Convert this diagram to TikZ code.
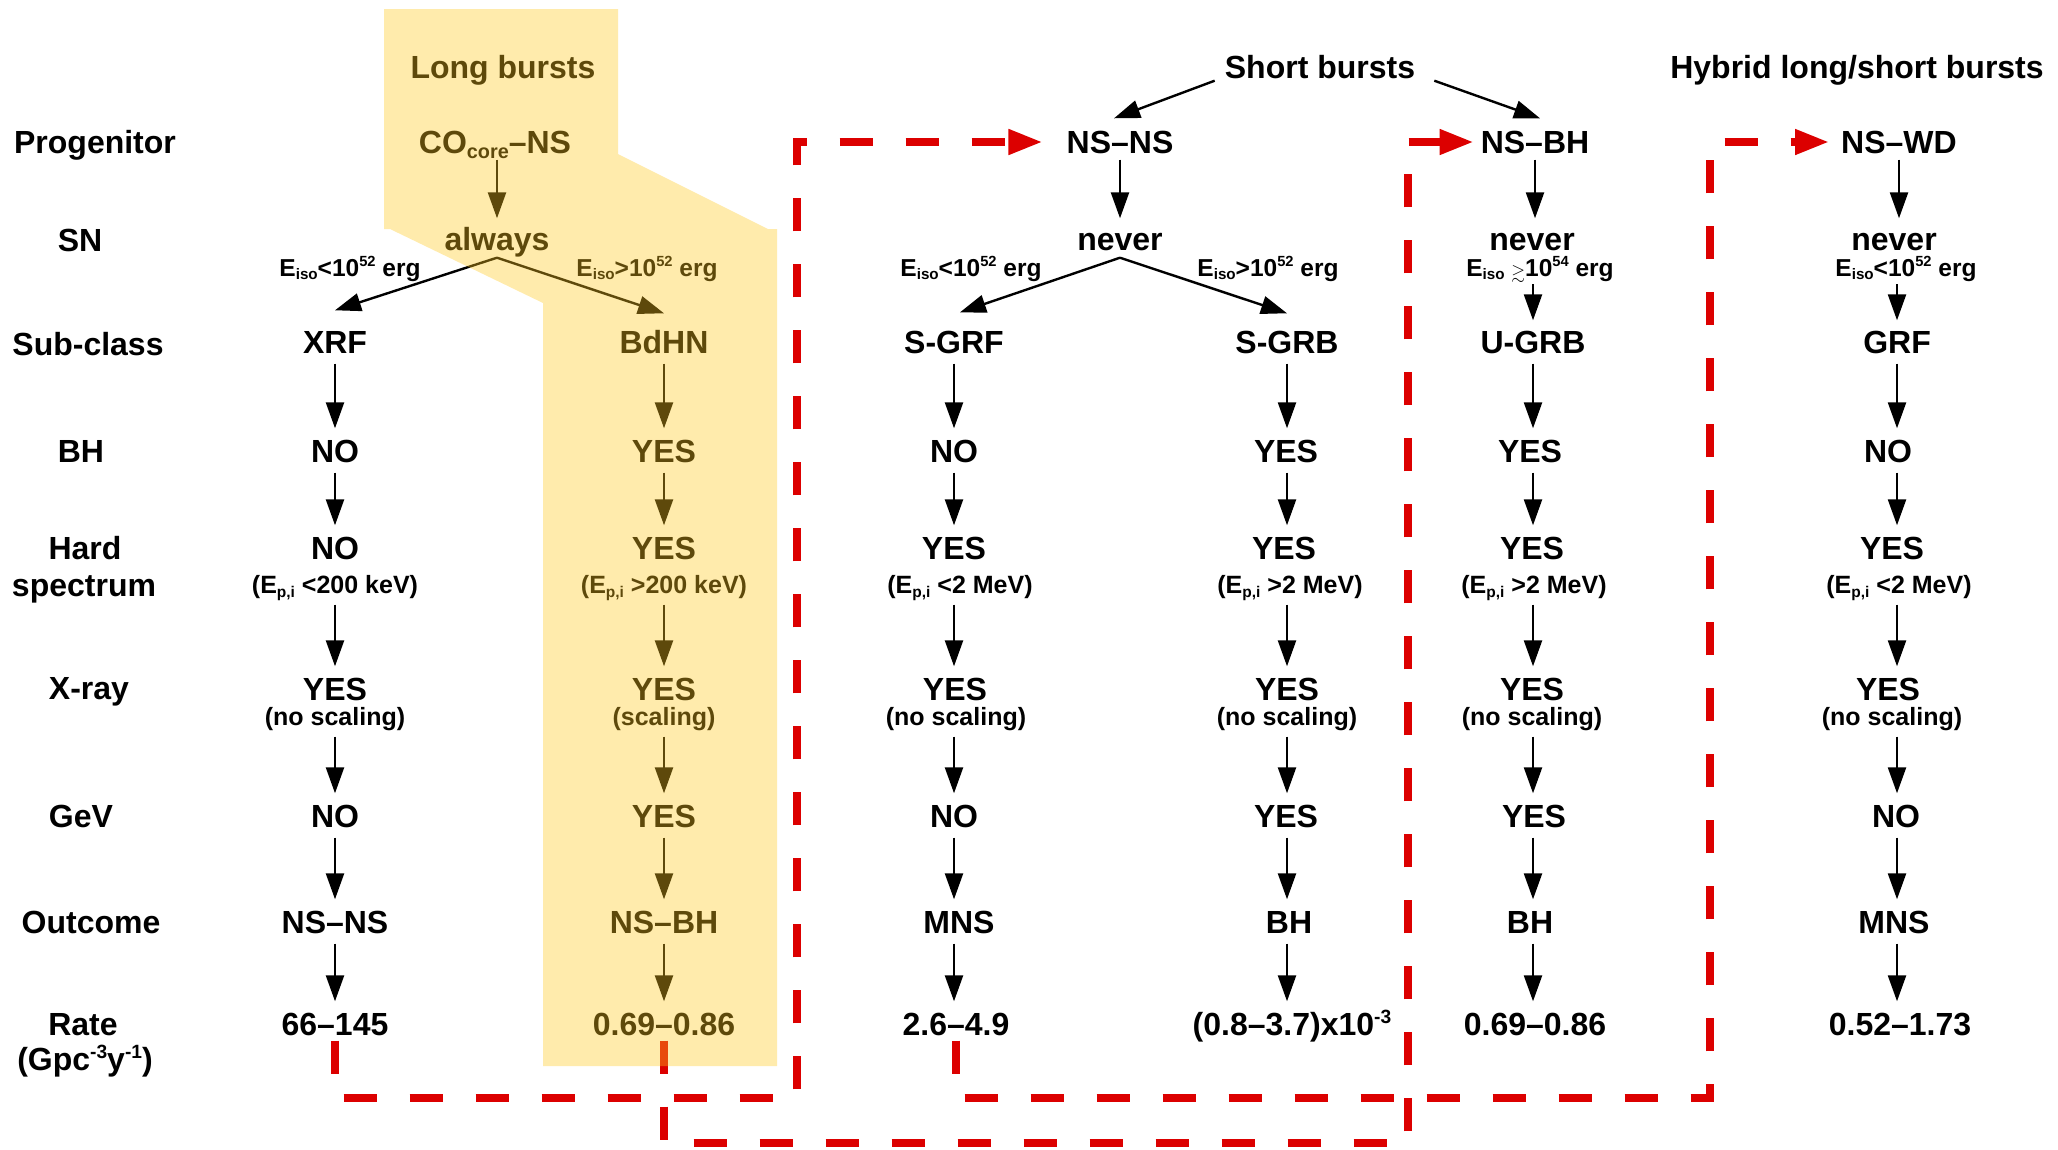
\documentclass[tikz,border=0pt]{standalone}
\usepackage{fontspec}
\setmainfont{Liberation Sans}
\usepackage{amssymb}
\usepackage{graphicx}
\usetikzlibrary{arrows.meta}
\definecolor{rdc}{RGB}{220,0,0}
\definecolor{ylw}{RGB}{255,200,30}
\newcommand\lsub[1]{\raisebox{-0.15em}{\scalebox{0.62}{#1}}}
\newcommand\lsup[1]{\raisebox{0.38em}{\scalebox{0.6}{#1}}}
\newcommand\gsim{\raisebox{-0.12em}{\scalebox{0.72}{$\gtrsim$}}}
\begin{document}
\begin{tikzpicture}[x=1pt,y=-1pt,
  big/.style={font=\fontsize{32}{36}\selectfont\bfseries, inner sep=0pt, text height=23pt, text depth=0pt},
  small/.style={font=\fontsize{25}{28}\selectfont\bfseries, inner sep=0pt, text height=18pt, text depth=5pt},
  cond/.style={font=\fontsize{24.5}{28}\selectfont\bfseries, inner sep=0pt, text height=17pt, text depth=5pt},
  arr/.style={line width=2.4pt, -{Triangle[length=26pt,width=18pt]}, shorten <=10pt, shorten >=11pt},
  sarr/.style={arr, shorten <=6pt},
  barr/.style={line width=2.4pt, -{Triangle[length=26pt,width=18pt]}},
  rdash/.style={draw=rdc, line width=7.5pt, dash pattern=on 33pt off 33pt, -{Triangle[length=34pt,width=24pt]}},
]
\useasboundingbox (0,0) rectangle (2058,1149);

% titles
\node[big] (tlong) at (503,67) {Long bursts};
\node[big] (tshort) at (1320,67) {Short bursts};
\node[big] (thyb) at (1857,67) {Hybrid long/short bursts};

% row labels
\node[big] (rprog) at (95,142) {Progenitor};
\node[big] (rsn) at (80,240) {SN};
\node[big] (rsubc) at (88,344) {Sub-class};
\node[big] (rbh) at (81,451) {BH};
\node[big] (rhard) at (85,548) {Hard};
\node[big] (rspec) at (84,585) {spectrum};
\node[big] (rxray) at (89,688) {X-ray};
\node[big] (rgev) at (81,816) {GeV};
\node[big] (rout) at (91,922) {Outcome};
\node[big] (rrate) at (83,1024) {Rate};
\node[big] (runit) at (85,1059) {(Gpc\lsup{-3}y\lsup{-1})};

% progenitors
\node[big] (pco) at (495,142) {CO\lsub{core}\textendash NS};
\node[big] (pnsns) at (1120,142) {NS\textendash NS};
\node[big] (pnsbh) at (1535,142) {NS\textendash BH};
\node[big] (pnswd) at (1899,142) {NS\textendash WD};

% SN
\node[big] (sA) at (497,239) {always};
\node[big] (sC) at (1120,239) {never};
\node[big] (sE) at (1532,239) {never};
\node[big] (sF) at (1894,239) {never};

% conditions
\node[cond] (cA) at (350,270) {E\lsub{iso}<10\lsup{52} erg};
\node[cond] (cB) at (647,270) {E\lsub{iso}>10\lsup{52} erg};
\node[cond] (cC) at (971,270) {E\lsub{iso}<10\lsup{52} erg};
\node[cond] (cD) at (1268,270) {E\lsub{iso}>10\lsup{52} erg};
\node[cond] (cE) at (1540,270) {E\lsub{iso} \gsim10\lsup{54} erg};
\node[cond] (cF) at (1906,270) {E\lsub{iso}<10\lsup{52} erg};

% column A
\node[big] (subA) at (335,342) {XRF};
\node[big] (bhA) at (335,451) {NO};
\node[big] (hdA) at (335,548) {NO};
\node[small] (hsA) at (335,587) {(E\lsub{p,i} <200 keV)};
\node[big] (xrA) at (335,689) {YES};
\node[small] (xsA) at (335,719) {(no scaling)};
\node[big] (gvA) at (335,816) {NO};
\node[big] (ouA) at (335,922) {NS\textendash NS};
\node[big] (raA) at (335,1024) {66\textendash 145};

% column B
\node[big] (subB) at (664,342) {BdHN};
\node[big] (bhB) at (664,451) {YES};
\node[big] (hdB) at (664,548) {YES};
\node[small] (hsB) at (664,587) {(E\lsub{p,i} >200 keV)};
\node[big] (xrB) at (664,689) {YES};
\node[small] (xsB) at (664,719) {(scaling)};
\node[big] (gvB) at (664,816) {YES};
\node[big] (ouB) at (664,922) {NS\textendash BH};
\node[big] (raB) at (664,1024) {0.69\textendash 0.86};

% column C
\node[big] (subC) at (954,342) {S-GRF};
\node[big] (bhC) at (954,451) {NO};
\node[big] (hdC) at (954,548) {YES};
\node[small] (hsC) at (960,587) {(E\lsub{p,i} <2 MeV)};
\node[big] (xrC) at (955,689) {YES};
\node[small] (xsC) at (956,719) {(no scaling)};
\node[big] (gvC) at (954,816) {NO};
\node[big] (ouC) at (959,922) {MNS};
\node[big] (raC) at (956,1024) {2.6\textendash 4.9};

% column D
\node[big] (subD) at (1287,342) {S-GRB};
\node[big] (bhD) at (1286,451) {YES};
\node[big] (hdD) at (1284,548) {YES};
\node[small] (hsD) at (1290,587) {(E\lsub{p,i} >2 MeV)};
\node[big] (xrD) at (1287,689) {YES};
\node[small] (xsD) at (1287,719) {(no scaling)};
\node[big] (gvD) at (1286,816) {YES};
\node[big] (ouD) at (1289,922) {BH};
\node[big] (raD) at (1292,1024) {(0.8\textendash 3.7)x10\lsup{-3}};

% column E
\node[big] (subE) at (1533,342) {U-GRB};
\node[big] (bhE) at (1530,451) {YES};
\node[big] (hdE) at (1532,548) {YES};
\node[small] (hsE) at (1534,587) {(E\lsub{p,i} >2 MeV)};
\node[big] (xrE) at (1532,689) {YES};
\node[small] (xsE) at (1532,719) {(no scaling)};
\node[big] (gvE) at (1534,816) {YES};
\node[big] (ouE) at (1530,922) {BH};
\node[big] (raE) at (1535,1024) {0.69\textendash 0.86};

% column F
\node[big] (subF) at (1897,342) {GRF};
\node[big] (bhF) at (1888,451) {NO};
\node[big] (hdF) at (1892,548) {YES};
\node[small] (hsF) at (1899,587) {(E\lsub{p,i} <2 MeV)};
\node[big] (xrF) at (1888,689) {YES};
\node[small] (xsF) at (1892,719) {(no scaling)};
\node[big] (gvF) at (1896,816) {NO};
\node[big] (ouF) at (1894,922) {MNS};
\node[big] (raF) at (1900,1024) {0.52\textendash 1.73};

% vertical chains (arrows on the column axis)
\foreach \c in {A,B,C,D,E,F}{
  \draw[arr] (sub\c.south) -- (sub\c.south |- bh\c.north);
  \draw[arr] (bh\c.south -| sub\c.south) -- (sub\c.south |- hd\c.north);
  \draw[sarr] (hs\c.south -| sub\c.south) -- (sub\c.south |- xr\c.north);
  \draw[sarr] (xs\c.south -| sub\c.south) -- (sub\c.south |- gv\c.north);
  \draw[arr] (gv\c.south -| sub\c.south) -- (sub\c.south |- ou\c.north);
  \draw[arr] (ou\c.south -| sub\c.south) -- (sub\c.south |- ra\c.north);
}

% progenitor -> SN
\draw[arr, shorten <=6pt, shorten >=9pt] (pco.south -| sA.north) -- (sA.north);
\draw[arr, shorten <=6pt, shorten >=9pt] (pnsns.south) -- (sC.north);
\draw[arr, shorten <=6pt, shorten >=9pt] (pnsbh.south) -- (pnsbh.south |- sE.north);
\draw[arr, shorten <=6pt, shorten >=9pt] (pnswd.south) -- (pnswd.south |- sF.north);

% branches
\draw[barr] ([yshift=-7pt]sA.south) -- ([yshift=20pt]subA.north);
\draw[barr] ([yshift=-7pt]sA.south) -- ([yshift=17pt]subB.north);
\draw[barr] ([yshift=-7pt]sC.south) -- ([xshift=6pt,yshift=18pt]subC.north);
\draw[barr] ([yshift=-7pt]sC.south) -- ([yshift=17pt]subD.north);
\draw[arr, shorten <=3pt, shorten >=10pt] (cE.south -| subE.north) -- (subE.north);
\draw[arr, shorten <=3pt, shorten >=10pt] (cF.south -| subF.north) -- (subF.north);

% short bursts
\draw[barr] ([xshift=-10pt,yshift=-2pt]tshort.south west) -- ([xshift=-6pt,yshift=12pt]pnsns.north);
\draw[barr] ([xshift=19pt,yshift=-2pt]tshort.south east) -- ([xshift=5pt,yshift=12pt]pnsbh.north);

% red dashed links
\coordinate (k1) at (797,1098);
\coordinate (k2) at (1408,1143);
\coordinate (k3) at (1710,1098);
\draw[rdash] ([yshift=-5pt]raA.south) |- (k1) |- ([xshift=-24pt]pnsns.west);
\draw[rdash] ([yshift=-5pt]raB.south) |- (k2) |- ([xshift=-7pt]pnsbh.west);
\draw[rdash] ([yshift=-5pt]raC.south) |- (k3) |- ([xshift=-12pt]pnswd.west);

% yellow highlight (translucent overlay)
\fill[ylw, opacity=0.37] (384,9) -- (618,9) -- (618,154) -- (768,229) -- (777,229) -- (777,1066) -- (543,1066) -- (543,303) -- (390,229) -- (384,229) -- cycle;
\end{tikzpicture}
\end{document}
